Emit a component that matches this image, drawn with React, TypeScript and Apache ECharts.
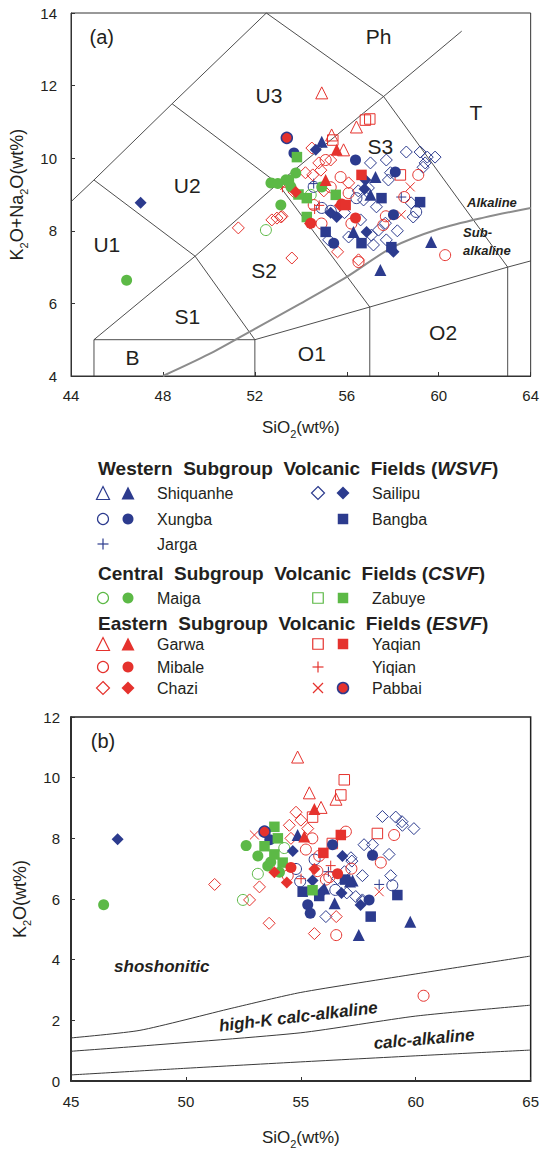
import React, { useEffect, useRef } from "react";
import * as echarts from "echarts";

const FONT = "'Liberation Sans', Arial, Helvetica, sans-serif";
const INK = "#231f20";
const BLUE = "#2c3b8e";
const RED = "#e5322d";
const GREEN = "#5cb946";

// ---------- Panel (a): TAS, [SiO2, Na2O+K2O] ----------
const shiquanheOpenA: number[][] = [];
const shiquanheFilledA = [[54.91, 10.45], [57.25, 9.48], [57.03, 8.99], [56.29, 7.97], [59.67, 7.69], [57.46, 6.92]];
const xungbaOpenA = [[54.91, 8.63], [56.42, 8.9], [59.02, 8.52], [54.56, 9.21], [55.3, 8.55]];
const xungbaFilledA = [[56.38, 9.95], [58.11, 9.62], [58.03, 8.44], [55.43, 7.66], [53.7, 10.14]];
const jargaA = [[54.56, 9.3], [58.37, 8.93]];
const sailipuOpenA = [[58.59, 10.17], [59.19, 10.17], [59.5, 10.03], [59.84, 10.03], [59.41, 9.87], [59.32, 9.75], [57.81, 9.4], [57.03, 9.87], [57.72, 9.95], [56.94, 9.18], [56.73, 8.85], [57.29, 8.66], [58.8, 8.77], [58.89, 8.38], [56.08, 7.83], [57.07, 7.88], [57.38, 8.02], [57.72, 7.75], [57.16, 7.61], [55.21, 7.75], [57.68, 8.21], [56.5, 9.1], [55.9, 8.5], [58.2, 8.0], [56.6, 8.3], [57.9, 9.6]];
const sailipuFilledA = [[47.03, 8.77], [54.65, 10.23], [56.81, 9.4], [56.77, 9.15], [55.56, 8.38], [56.86, 7.97], [58.03, 7.42], [55.3, 8.5]];
const bangbaA = [[57.51, 8.9], [59.19, 8.79], [55.08, 7.97], [56.64, 7.66], [57.94, 7.55]];
const maigaOpenA = [[52.48, 8.02], [54.43, 8.99]];
const maigaFilledA = [[46.42, 6.64], [52.7, 9.32], [53.35, 9.4], [53.78, 9.59], [53.13, 8.71], [53.57, 9.21], [54.91, 9.21], [53.0, 9.3]];
const zabuyeOpenA: number[][] = [];
const zabuyeFilledA = [[53.83, 10.03], [54.26, 8.9], [55.52, 8.99], [54.26, 8.38], [53.48, 9.4], [53.9, 9.0]];
const garwaOpenA = [[54.91, 11.8], [56.42, 10.86], [55.34, 10.64], [55.86, 10.23]];
const garwaFilledA = [[55.56, 10.23], [55.08, 9.4]];
const mibaleOpenA = [[55.08, 9.95], [55.73, 9.48], [59.11, 9.54], [60.28, 7.33], [56.51, 7.14], [57.59, 8.16], [54.56, 8.71], [56.08, 9.04], [58.5, 8.93], [55.3, 9.2], [57.7, 8.4], [54.9, 8.2], [56.2, 8.2]];
const mibaleFilledA = [[56.38, 8.35], [54.43, 8.21], [55.78, 8.74]];
const chaziOpenA = [[54.48, 10.28], [54.87, 9.67], [53.7, 9.07], [53.13, 8.38], [52.74, 8.3], [51.28, 8.08], [53.61, 7.25], [56.51, 7.2], [54.78, 9.87], [55.3, 9.95], [54.52, 9.54], [56.08, 9.32], [55.6, 7.42], [52.96, 8.35], [53.18, 8.4], [55.0, 9.1], [54.2, 9.6]];
const chaziFilledA = [[53.78, 9.07], [55.7, 8.7], [54.4, 8.2]];
const yaqianOpenA = [[56.81, 11.05], [57.0, 11.08], [55.39, 10.5], [58.33, 9.54]];
const yaqianFilledA = [[56.64, 9.54], [55.95, 8.71]];
const yiqianA = [[53.2, 9.2], [54.8, 8.7], [54.6, 8.6]];
const pabbaiCrossA = [[58.37, 8.44], [58.76, 9.21], [53.3, 9.25]];
const pabbaiFilledA = [[53.39, 10.56]];

// ---------- Panel (b): [SiO2, K2O] ----------
const shiquanheOpenB: number[][] = [];
const shiquanheFilledB = [[54.86, 8.11], [57.25, 6.61], [56.02, 6.35], [57.52, 4.81], [59.76, 5.25], [56.47, 5.86], [57.14, 6.58]];
const xungbaOpenB = [[54.79, 6.99], [54.97, 6.58], [58.98, 6.45], [56.5, 6.3], [55.6, 7.3]];
const xungbaFilledB = [[56.38, 7.79], [58.12, 7.44], [55.3, 5.81], [57.97, 5.97], [55.41, 5.53], [53.65, 7.95]];
const jargaB = [[58.41, 6.48], [56.2, 6.9]];
const sailipuOpenB = [[58.55, 8.72], [59.13, 8.7], [59.42, 8.43], [59.92, 8.32], [57.75, 7.79], [58.12, 7.79], [58.84, 7.47], [57.18, 7.36], [57.68, 6.77], [58.91, 6.77], [56.6, 6.67], [57.39, 6.08], [57.68, 5.97], [56.09, 5.42], [57.67, 5.92], [57.22, 7.25], [59.4, 8.55], [56.9, 6.9], [57.0, 6.2]];
const sailipuFilledB = [[47.03, 7.97], [54.65, 7.58], [56.81, 7.42], [55.51, 6.61], [55.95, 6.26], [56.77, 6.2], [57.6, 5.8]];
const bangbaB = [[55.08, 6.24], [59.2, 6.13], [58.04, 5.42], [56.92, 6.64], [55.8, 6.1]];
const maigaOpenB = [[53.13, 6.83], [52.48, 5.97], [54.28, 7.68]];
const maigaFilledB = [[46.42, 5.81], [52.62, 7.76], [53.13, 7.42], [53.56, 7.09], [54.07, 6.88], [53.69, 7.22]];
const zabuyeOpenB: number[][] = [];
const zabuyeFilledB = [[53.85, 8.38], [53.42, 7.74], [53.85, 7.47], [54.21, 7.2], [55.51, 6.29], [54.0, 8.0]];
const garwaOpenB = [[54.86, 10.68], [55.37, 9.5], [56.53, 9.29], [55.88, 9.02]];
const garwaFilledB = [[55.59, 8.97], [55.15, 8.06]];
const mibaleOpenB = [[56.96, 8.22], [59.06, 8.11], [55.22, 7.63], [55.8, 7.42], [58.48, 7.2], [54.43, 6.77], [56.24, 6.72], [56.54, 4.81], [60.34, 2.81], [55.72, 6.92], [56.09, 6.64], [57.2, 7.0], [55.5, 8.0]];
const mibaleFilledB = [[54.57, 7.04], [56.6, 6.83]];
const chaziOpenB = [[54.79, 8.86], [54.5, 8.43], [55.0, 8.6], [55.3, 8.32], [54.57, 8.0], [51.25, 6.48], [53.2, 6.4], [52.77, 5.97], [53.62, 5.2], [55.59, 4.86], [56.54, 5.42]];
const chaziFilledB = [[53.85, 6.88], [54.39, 6.54], [55.59, 6.99]];
const yaqianOpenB = [[56.89, 9.93], [56.74, 9.43], [55.51, 8.7], [58.33, 8.16], [56.37, 7.83]];
const yaqianFilledB = [[56.74, 8.11], [55.98, 7.52]];
const yiqianB = [[55.01, 6.67], [56.3, 7.1]];
const pabbaiCrossB = [[52.98, 8.11], [58.41, 6.24]];
const pabbaiFilledB = [[53.42, 8.22]];

// ---------- Classification boundaries ----------
const tasLines = [
  [[44, 8.8], [45, 9.4], [48.4, 11.5], [52.5, 14]],
  [[45, 4], [45, 5], [52, 5], [52, 4]],
  [[45, 5], [49.4, 7.3], [53, 9.3], [57.6, 11.7], [61, 13.5]],
  [[52, 5], [49.4, 7.3], [45, 9.4]],
  [[57, 4], [57, 5.9], [53, 9.3], [48.4, 11.5]],
  [[52, 5], [57, 5.9], [63, 7], [64, 7.17]],
  [[63, 4], [63, 7], [57.6, 11.7], [52.5, 14]],
];
const alkalineLine = [[48, 4], [50, 4.6], [52, 5.3], [54, 6.0], [56, 6.73], [58, 7.55], [60, 8.05], [62, 8.37], [64, 8.63]];
const shoshoniticLine = [[45, 1.42], [48, 1.67], [52, 2.4], [55, 2.92], [60, 3.53], [65, 4.12]];
const highKLine = [[45, 0.98], [48, 1.15], [55, 1.59], [60, 2.14], [65, 2.5]];
const calcAlkLine = [[45, 0.2], [50, 0.42], [55, 0.63], [60, 0.83], [65, 1.02]];

// ---------- Field labels ----------
const fieldLabelsA = [
  { t: "Ph", x: 57.38, y: 13.34 }, { t: "U3", x: 52.61, y: 11.74 }, { t: "U2", x: 49.06, y: 9.26 },
  { t: "U1", x: 45.56, y: 7.61 }, { t: "S1", x: 49.06, y: 5.63 }, { t: "B", x: 46.68, y: 4.5 },
  { t: "S2", x: 52.4, y: 6.92 }, { t: "S3", x: 57.46, y: 10.31 }, { t: "T", x: 61.62, y: 11.27 },
  { t: "O1", x: 54.48, y: 4.63 }, { t: "O2", x: 60.19, y: 5.21 },
];
const seriesLabelsA = [
  { t: "Alkaline", x: 61.23, y: 8.79 }, { t: "Sub-", x: 61.06, y: 7.94 }, { t: "alkaline", x: 61.06, y: 7.47 },
];
const seriesLabelsB = [
  { t: "shoshonitic", x: 48.95, y: 3.79, r: 0 },
  { t: "high-K calc-alkaline", x: 54.89, y: 2.12, r: 6.7 },
  { t: "calc-alkaline", x: 60.36, y: 1.38, r: 5 },
];

type Cat = { name: string; shape: string; filled: boolean; color: string; edge?: string; a: number[][]; b: number[][] };
const cats: Cat[] = [
  { name: "Shiquanhe", shape: "triangle", filled: false, color: BLUE, a: shiquanheOpenA, b: shiquanheOpenB },
  { name: "Shiquanhe", shape: "triangle", filled: true, color: BLUE, a: shiquanheFilledA, b: shiquanheFilledB },
  { name: "Xungba", shape: "circle", filled: false, color: BLUE, a: xungbaOpenA, b: xungbaOpenB },
  { name: "Xungba", shape: "circle", filled: true, color: BLUE, a: xungbaFilledA, b: xungbaFilledB },
  { name: "Jarga", shape: "plus", filled: false, color: BLUE, a: jargaA, b: jargaB },
  { name: "Sailipu", shape: "diamond", filled: false, color: BLUE, a: sailipuOpenA, b: sailipuOpenB },
  { name: "Sailipu", shape: "diamond", filled: true, color: BLUE, a: sailipuFilledA, b: sailipuFilledB },
  { name: "Bangba", shape: "square", filled: true, color: BLUE, a: bangbaA, b: bangbaB },
  { name: "Maiga", shape: "circle", filled: false, color: GREEN, a: maigaOpenA, b: maigaOpenB },
  { name: "Maiga", shape: "circle", filled: true, color: GREEN, a: maigaFilledA, b: maigaFilledB },
  { name: "Zabuye", shape: "square", filled: false, color: GREEN, a: zabuyeOpenA, b: zabuyeOpenB },
  { name: "Zabuye", shape: "square", filled: true, color: GREEN, a: zabuyeFilledA, b: zabuyeFilledB },
  { name: "Garwa", shape: "triangle", filled: false, color: RED, a: garwaOpenA, b: garwaOpenB },
  { name: "Garwa", shape: "triangle", filled: true, color: RED, a: garwaFilledA, b: garwaFilledB },
  { name: "Mibale", shape: "circle", filled: false, color: RED, a: mibaleOpenA, b: mibaleOpenB },
  { name: "Mibale", shape: "circle", filled: true, color: RED, a: mibaleFilledA, b: mibaleFilledB },
  { name: "Chazi", shape: "diamond", filled: false, color: RED, a: chaziOpenA, b: chaziOpenB },
  { name: "Chazi", shape: "diamond", filled: true, color: RED, a: chaziFilledA, b: chaziFilledB },
  { name: "Yaqian", shape: "square", filled: false, color: RED, a: yaqianOpenA, b: yaqianOpenB },
  { name: "Yaqian", shape: "square", filled: true, color: RED, a: yaqianFilledA, b: yaqianFilledB },
  { name: "Yiqian", shape: "plus", filled: false, color: RED, a: yiqianA, b: yiqianB },
  { name: "Pabbai", shape: "cross", filled: false, color: RED, a: pabbaiCrossA, b: pabbaiCrossB },
  { name: "Pabbai", shape: "circle", filled: true, color: RED, edge: BLUE, a: pabbaiFilledA, b: pabbaiFilledB },
];

const SYMBOL: Record<string, string> = {
  circle: "circle", triangle: "triangle", diamond: "diamond", square: "rect",
  plus: "path://M5,0L5,10M0,5L10,5", cross: "path://M0,0L10,10M10,0L0,10",
};
const SIZE: Record<string, number> = { circle: 11, triangle: 12, diamond: 12, square: 10.5, plus: 10, cross: 9 };

// Legend layout
const legendHeaders = [
  { pre: "Western  Subgroup  Volcanic  Fields (", abbr: "WSVF", y: 468 },
  { pre: "Central  Subgroup  Volcanic  Fields (", abbr: "CSVF", y: 573 },
  { pre: "Eastern  Subgroup  Volcanic  Fields (", abbr: "ESVF", y: 623 },
];
const legendRows = [
  { col: 0, y: 493, open: 0, filled: 1 }, { col: 1, y: 493, open: 5, filled: 6 },
  { col: 0, y: 519, open: 2, filled: 3 }, { col: 1, y: 519, open: -1, filled: 7 },
  { col: 0, y: 544, open: 4, filled: -1 },
  { col: 0, y: 598, open: 8, filled: 9 }, { col: 1, y: 598, open: 10, filled: 11 },
  { col: 0, y: 644, open: 12, filled: 13 }, { col: 1, y: 644, open: 18, filled: 19 },
  { col: 0, y: 667, open: 14, filled: 15 }, { col: 1, y: 667, open: 20, filled: -1 },
  { col: 0, y: 688, open: 16, filled: 17 }, { col: 1, y: 688, open: 21, filled: 22 },
];

function legendSymbol(c: Cat, cx: number, cy: number): any {
  const s = SIZE[c.shape] + 1;
  const style: any = c.filled
    ? { fill: c.color, stroke: c.edge || c.color, lineWidth: c.edge ? 1.5 : 0 }
    : { fill: "none", stroke: c.color, lineWidth: 1.2 };
  const h = s / 2;
  switch (c.shape) {
    case "circle":
      return { type: "circle", shape: { cx, cy, r: h - 0.5 }, style };
    case "square":
      return { type: "rect", shape: { x: cx - h + 0.5, y: cy - h + 0.5, width: s - 1, height: s - 1 }, style };
    case "triangle":
      return { type: "polygon", shape: { points: [[cx, cy - h], [cx + h, cy + h], [cx - h, cy + h]] }, style };
    case "diamond":
      return { type: "polygon", shape: { points: [[cx, cy - h], [cx + h, cy], [cx, cy + h], [cx - h, cy]] }, style };
    case "plus":
      return { type: "group", children: [
        { type: "line", shape: { x1: cx - h, y1: cy, x2: cx + h, y2: cy }, style: { stroke: c.color, lineWidth: 1.2 } },
        { type: "line", shape: { x1: cx, y1: cy - h, x2: cx, y2: cy + h }, style: { stroke: c.color, lineWidth: 1.2 } },
      ] };
    default:
      return { type: "group", children: [
        { type: "line", shape: { x1: cx - h, y1: cy - h, x2: cx + h, y2: cy + h }, style: { stroke: c.color, lineWidth: 1.2 } },
        { type: "line", shape: { x1: cx + h, y1: cy - h, x2: cx - h, y2: cy + h }, style: { stroke: c.color, lineWidth: 1.2 } },
      ] };
  }
}

const nameStyle = (size: number) => ({
  fontSize: size, color: INK, fontFamily: FONT,
  rich: {
    a: { fontSize: size, color: INK, fontFamily: FONT, lineHeight: size + 6 },
    s: { fontSize: Math.round(size * 0.62), color: INK, fontFamily: FONT, verticalAlign: "bottom" },
  },
});

function buildOption(): any {
  const axisCommon = {
    type: "value",
    splitLine: { show: false },
    axisLine: { show: true, lineStyle: { color: "#333", width: 1 } },
    axisTick: { show: true, inside: true, length: 4, lineStyle: { color: "#333" } },
  };
  const series: any[] = [];
  tasLines.forEach((l) =>
    series.push({ type: "line", xAxisIndex: 0, yAxisIndex: 0, data: l, symbol: "none", silent: true, z: 1,
      lineStyle: { color: "#3a3a3a", width: 0.9 } })
  );
  series.push({ type: "line", xAxisIndex: 0, yAxisIndex: 0, data: alkalineLine, symbol: "none", smooth: 0.3, silent: true, z: 1,
    lineStyle: { color: "#8c8c8c", width: 2 } });
  [shoshoniticLine, highKLine, calcAlkLine].forEach((l) =>
    series.push({ type: "line", xAxisIndex: 1, yAxisIndex: 1, data: l, symbol: "none", smooth: 0.2, silent: true, z: 1,
      lineStyle: { color: "#3a3a3a", width: 1 } })
  );
  [0, 1].forEach((p) => {
    cats.forEach((c) => {
      const data = p === 0 ? c.a : c.b;
      if (!data.length) return;
      series.push({
        type: "scatter", xAxisIndex: p, yAxisIndex: p, data, silent: true,
        symbol: SYMBOL[c.shape], symbolSize: SIZE[c.shape],
        itemStyle: c.filled
          ? { color: c.color, borderColor: c.edge || c.color, borderWidth: c.edge ? 1.5 : 0, opacity: 1 }
          : { color: "rgba(0,0,0,0)", borderColor: c.color, borderWidth: 1, opacity: 1 },
        z: c.filled ? 3 : 2,
      });
    });
  });
  const lbl = { fontSize: 15, color: INK, fontFamily: FONT };
  return {
    animation: false,
    backgroundColor: "#ffffff",
    grid: [
      { left: 71, top: 13, width: 462, height: 363, show: true, borderColor: "#333", borderWidth: 1, backgroundColor: "transparent" },
      { left: 71, top: 717, width: 461, height: 374, show: true, borderColor: "#222", borderWidth: 1.5, backgroundColor: "transparent" },
    ],
    xAxis: [
      { ...axisCommon, gridIndex: 0, min: 44, max: 64, interval: 4, axisLabel: { ...lbl, margin: 12 },
        name: "{a|SiO}{s|2}{a|(wt%)}", nameLocation: "middle", nameGap: 40, nameTextStyle: nameStyle(17) },
      { ...axisCommon, gridIndex: 1, min: 45, max: 65, interval: 5, axisLabel: { ...lbl, margin: 13 },
        axisLine: { show: true, lineStyle: { color: "#222", width: 1.5 } },
        name: "{a|SiO}{s|2}{a|(wt%)}", nameLocation: "middle", nameGap: 45, nameTextStyle: nameStyle(17) },
    ],
    yAxis: [
      { ...axisCommon, gridIndex: 0, min: 4, max: 14, interval: 2, axisLabel: { ...lbl, margin: 14 },
        name: "{a|K}{s|2}{a|O+Na}{s|2}{a|O(wt%)}", nameLocation: "middle", nameRotate: 90, nameGap: 31,
        nameTextStyle: nameStyle(18) },
      { ...axisCommon, gridIndex: 1, min: 0, max: 12, interval: 2, axisLabel: { ...lbl, margin: 11 },
        axisLine: { show: true, lineStyle: { color: "#222", width: 1.5 } },
        name: "{a|K}{s|2}{a|O(wt%)}", nameLocation: "middle", nameRotate: 90, nameGap: 35,
        nameTextStyle: nameStyle(18) },
    ],
    series,
  };
}

function buildGraphic(chart: any): any[] {
  const g: any[] = [];
  const px = (grid: number, x: number, y: number) => chart.convertToPixel({ gridIndex: grid }, [x, y]);
  const txt = (x: number, y: number, text: string, style: any, extra: any = {}) =>
    g.push({ type: "text", x, y, z: 10, ...extra, style: { text, fill: INK, fontFamily: FONT, align: "center", verticalAlign: "middle", ...style } });

  fieldLabelsA.forEach((f) => { const [x, y] = px(0, f.x, f.y); txt(x, y, f.t, { fontSize: 21 }); });
  seriesLabelsA.forEach((f) => { const [x, y] = px(0, f.x, f.y); txt(x, y, f.t, { fontSize: 13, fontWeight: "bold", fontStyle: "italic", align: "left" }); });
  seriesLabelsB.forEach((f) => {
    const [x, y] = px(1, f.x, f.y);
    txt(x, y, f.t, { fontSize: 17, fontWeight: "bold", fontStyle: "italic" }, { rotation: (f.r * Math.PI) / 180 });
  });
  { const [x, y] = px(0, 45.34, 13.34); txt(x, y, "(a)", { fontSize: 20 }); }
  { const [x, y] = px(1, 46.39, 11.2); txt(x, y, "(b)", { fontSize: 20 }); }

  legendHeaders.forEach((h) => {
    g.push({ type: "text", x: 98, y: h.y, z: 10, style: {
      text: `{b|${h.pre}}{i|${h.abbr}}{b|)}`, verticalAlign: "middle", align: "left",
      rich: {
        b: { fontSize: 19, fontWeight: "bold", fill: INK, fontFamily: FONT },
        i: { fontSize: 19, fontWeight: "bold", fontStyle: "italic", fill: INK, fontFamily: FONT },
      },
    } });
  });
  const colX = [[103, 128, 157], [318, 343, 372]];
  legendRows.forEach((r) => {
    const [ox, fx, lx] = colX[r.col];
    if (r.open >= 0) g.push(legendSymbol(cats[r.open], ox, r.y));
    if (r.filled >= 0) g.push(legendSymbol(cats[r.filled], fx, r.y));
    const name = cats[r.open >= 0 ? r.open : r.filled].name;
    g.push({ type: "text", x: lx, y: r.y, z: 10, style: { text: name, fontSize: 16, fill: INK, fontFamily: FONT, align: "left", verticalAlign: "middle" } });
  });
  return g;
}

export default function App() {
  const ref = useRef<HTMLDivElement>(null);
  useEffect(() => {
    if (!ref.current) return;
    const chart = echarts.init(ref.current, null, { renderer: "svg" });
    chart.setOption(buildOption());
    chart.setOption({ graphic: buildGraphic(chart) });
    return () => chart.dispose();
  }, []);
  return <div ref={ref} style={{ position: "absolute", left: 0, top: 0, width: 542, height: 1150, background: "#fff" }} />;
}
